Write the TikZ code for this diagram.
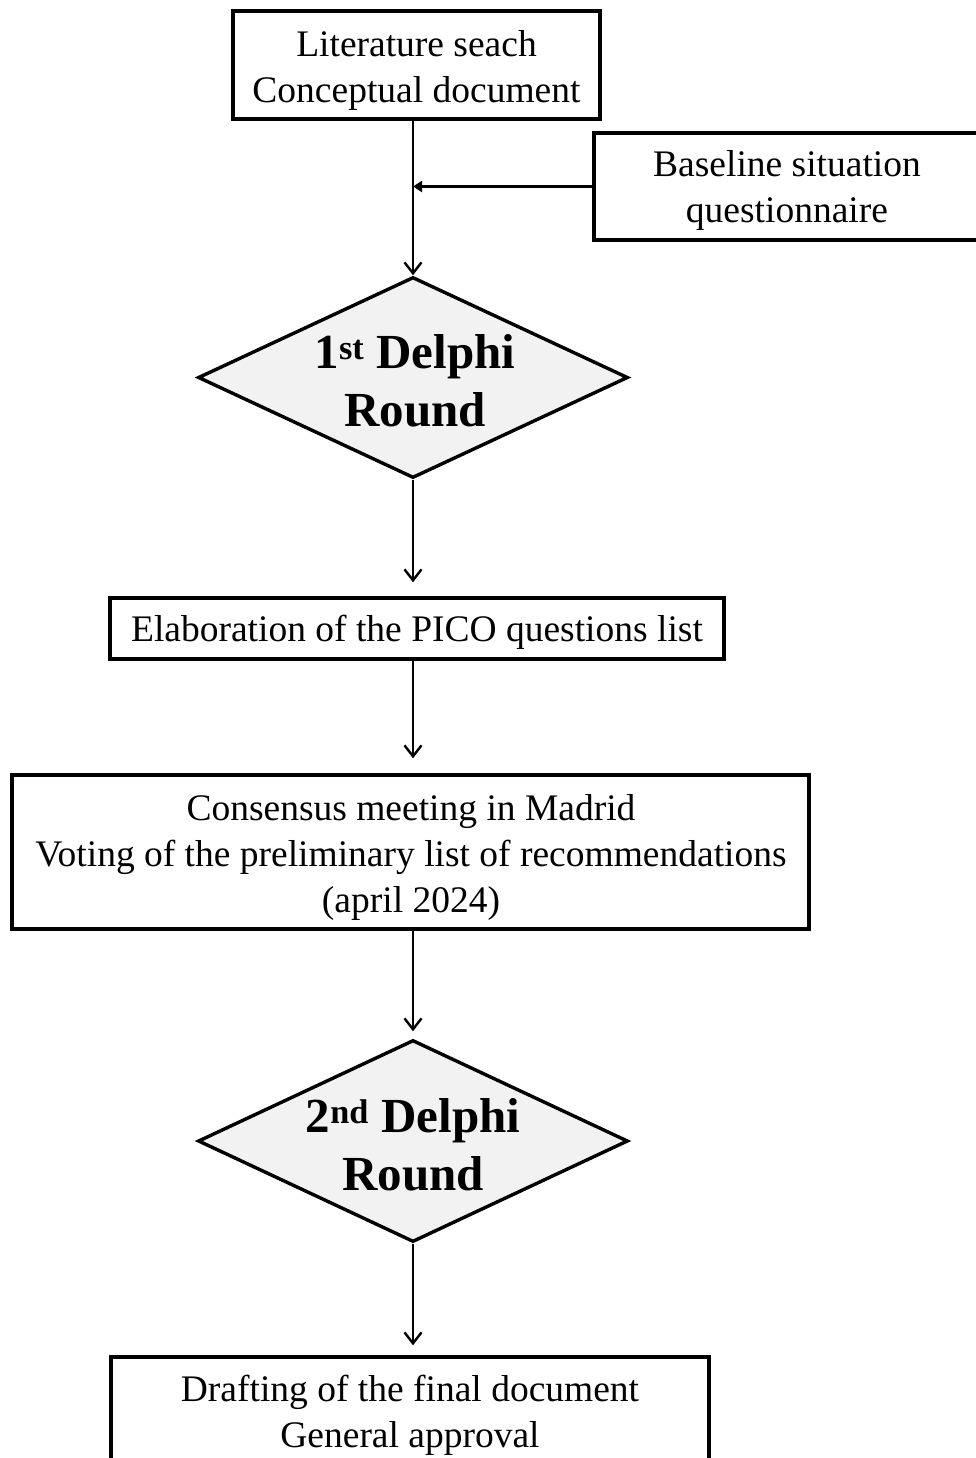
\documentclass[tikz,border=0pt]{standalone}
\usepackage{fontspec}
\setmainfont{Liberation Serif}
\usetikzlibrary{arrows.meta,shapes.geometric,calc}
\definecolor{dgray}{HTML}{F2F2F2}
\tikzset{
  box/.style={draw=black,line width=3.4pt,rectangle,inner sep=0pt},
  dia/.style={draw=black,line width=3.4pt,diamond,fill=dgray,inner sep=0pt},
  dtext/.style={align=center,inner sep=0pt,font=\fontsize{49}{58}\selectfont\bfseries},
  txt/.style={align=center,inner sep=0pt,font=\fontsize{37.5}{46}\selectfont},
  conn/.style={line width=2.4pt,-{Straight Barb[length=11pt,width=17pt,line width=2.4pt]}},
  side/.style={line width=2.4pt,-{Triangle[length=9pt,width=11pt]}}
}
\begin{document}
\begin{tikzpicture}[x=1pt,y=-1pt]
\useasboundingbox (0,0) rectangle (976,1458);
\clip (0,0) rectangle (976,1458);
\node[box,minimum width=367pt,minimum height=108pt] (b1) at (416.5,65) {};
\node[txt] (t1a) at (416.5,70) {Literature seach\\Conceptual document};
\node[box,minimum width=386pt,minimum height=107pt] (b2) at (787,186.5) {};
\node[txt] (t2a) at (787,190) {Baseline situation\\questionnaire};
\node[dia,minimum width=430pt,minimum height=201pt] (d1) at (413,377.5) {};
\node[dtext] (t1) at (415,381) {1\textsuperscript{st} Delphi\\Round};
\node[box,minimum width=614pt,minimum height=61pt] (b3) at (417,628.5) {};
\node[txt] (t3) at (417,632.5) {Elaboration of the PICO questions list};
\node[box,minimum width=797pt,minimum height=154pt] (b4) at (410.5,852) {};
\node[txt] (t4) at (411,857) {Consensus meeting in Madrid\\Voting of the preliminary list of recommendations\\(april 2024)};
\node[dia,minimum width=430pt,minimum height=202pt] (d2) at (413,1141) {};
\node[dtext] (t2) at (413,1145) {2\textsuperscript{nd} Delphi\\Round};
\node[box,minimum width=598pt,minimum height=140pt] (b5) at (410,1427) {};
\node[txt] (t5) at (410,1415) {Drafting of the final document\\General approval};
\coordinate (j1) at (b2.west -| d1.north);
\draw[conn] (b1.south -| d1.north) -- (d1.north);
\draw[side] (b2.west) -- (j1);
\draw[conn,shorten >=14pt] (d1.south) -- (b3.north -| d1.south);
\draw[conn,shorten >=15pt] (b3.south -| d1.south) -- (b4.north -| d1.south);
\draw[conn,shorten >=7pt] (b4.south -| d2.north) -- (d2.north);
\draw[conn,shorten >=10pt] (d2.south) -- (b5.north -| d2.south);
\end{tikzpicture}
\end{document}
